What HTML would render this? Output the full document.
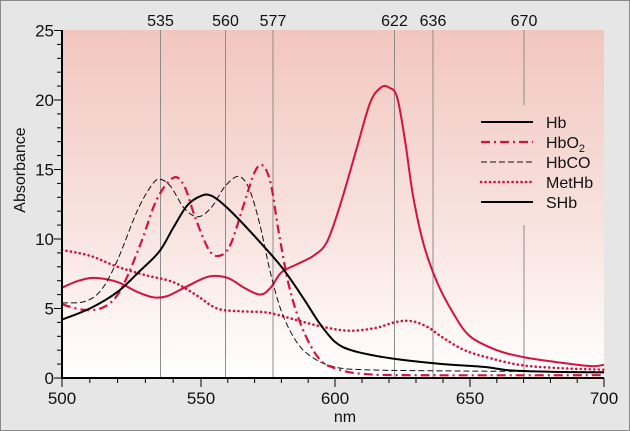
<!DOCTYPE html>
<html><head><meta charset="utf-8"><style>
html,body{margin:0;padding:0;background:#e6e6e6}
svg{display:block;font-family:"Liberation Sans",sans-serif}
</style></head><body>
<svg id="s" width="630" height="431" viewBox="0 0 630 431" xmlns="http://www.w3.org/2000/svg">
<defs><linearGradient id="g" x1="0" y1="0" x2="0" y2="1">
<stop offset="0" stop-color="#f2c6bf"/><stop offset="0.55" stop-color="#f8e2de"/><stop offset="1" stop-color="#ffffff"/></linearGradient></defs>
<rect x="0.5" y="0.5" width="629" height="430" fill="#e6e6e6" stroke="#8a8a8a"/>
<rect x="62" y="30" width="542" height="348" fill="url(#g)"/>
<g id="vl" stroke="#8c8c8c" stroke-width="1"></g>
<g id="cv" fill="none"></g>
<g id="ax"></g>
</svg>
<script>
function X(n){var p=[[500,62],[550,201],[600,335],[650,470],[700,604]];for(var i=0;i<4;i++){if(n<=p[i+1][0]){return p[i][1]+(n-p[i][0])*(p[i+1][1]-p[i][1])/50;}}return 604;}
function Y(v){return 378-v*13.9;}
var NS="http://www.w3.org/2000/svg";
function el(t,a,par,txt){var e=document.createElementNS(NS,t);for(var k in a)e.setAttribute(k,a[k]);if(txt!=null)e.textContent=txt;document.getElementById(par).appendChild(e);return e;}
[[535,160.5],[560,225.5],[577,273],[622,394.5],[636,433]].forEach(function(l){var x=l[1];el('line',{x1:x,x2:x,y1:30,y2:378},'vl');el('text',{x:x,y:26,'text-anchor':'middle','font-size':'16',fill:'#111'},'ax',String(l[0]));});
var x670=524;el('line',{x1:x670,x2:x670,y1:30,y2:105},'vl');el('line',{x1:x670,x2:x670,y1:225,y2:378},'vl');
el('text',{x:x670,y:26,'text-anchor':'middle','font-size':'16',fill:'#111'},'ax','670');
function path(pts){var P=pts.map(function(p){return [X(p[0]),Y(p[1])];});var d='M'+P[0][0].toFixed(1)+','+P[0][1].toFixed(1);
for(var i=0;i<P.length-1;i++){var p0=P[i-1]||P[i],p1=P[i],p2=P[i+1],p3=P[i+2]||P[i+1];
var c1=[p1[0]+(p2[0]-p0[0])/6,p1[1]+(p2[1]-p0[1])/6],c2=[p2[0]-(p3[0]-p1[0])/6,p2[1]-(p3[1]-p1[1])/6];
d+=' C'+c1[0].toFixed(1)+','+c1[1].toFixed(1)+' '+c2[0].toFixed(1)+','+c2[1].toFixed(1)+' '+p2[0].toFixed(1)+','+p2[1].toFixed(1);}return d;}
var red='#d4123e';
var hb=[[500,6.5],[506,7.0],[512,7.2],[520,6.9],[527,6.2],[533,5.8],[538,5.9],[545,6.6],[553,7.3],[560,7.2],[566,6.5],[572,6.0],[576,6.5],[580,7.6],[586,8.2],[592,8.8],[597,9.8],[602,12.5],[608,16.5],[613,19.8],[617,20.9],[620,20.9],[623,20.2],[626,17],[629,13],[633,9.5],[638,6.8],[644,4.6],[650,3],[660,2],[670,1.5],[680,1.2],[690,0.95],[696,0.85],[700,0.95]];
var o2=[[500,5.3],[508,4.9],[515,5.1],[521,6.3],[528,9.5],[534,12.8],[540,14.4],[544,13.8],[548,11.5],[553,9.2],[557,8.8],[561,9.6],[566,12.5],[570,14.8],[573,15.3],[576,14],[579,10.5],[583,6.5],[588,3.5],[594,1.4],[600,0.7],[610,0.3],[630,0.2],[700,0.2]];
var co=[[500,5.4],[508,5.5],[514,6.3],[520,8.5],[527,12],[532,13.8],[535,14.3],[539,13.8],[544,12.2],[549,11.6],[554,12.3],[559,13.8],[564,14.5],[568,13.6],[572,11],[576,7.5],[580,4.8],[585,2.8],[590,1.7],[598,0.9],[610,0.6],[650,0.5],[700,0.45]];
var mh=[[500,9.2],[510,8.8],[520,8],[530,7.4],[540,6.9],[548,6],[556,5.0],[565,4.8],[575,4.7],[585,4.2],[595,3.7],[605,3.4],[615,3.6],[622,4.0],[628,4.1],[634,3.7],[640,2.9],[648,2.0],[658,1.4],[670,0.9],[685,0.7],[700,0.6]];
var sh=[[500,4.2],[510,5.0],[520,6.2],[528,7.7],[535,9.1],[540,10.8],[545,12.4],[550,13.1],[554,13.1],[560,12.2],[570,10.2],[580,8.0],[588,5.8],[594,4.0],[600,2.6],[606,2.0],[615,1.6],[625,1.3],[640,1.0],[655,0.8],[665,0.55],[680,0.45],[700,0.4]];
el('path',{d:path(hb),stroke:red,'stroke-width':2},'cv');
el('path',{d:path(mh),stroke:red,'stroke-width':2.6,'stroke-dasharray':'0.1 4.4','stroke-linecap':'round'},'cv');
el('path',{d:path(co),stroke:'#111','stroke-width':1,'stroke-dasharray':'6 3'},'cv');
el('path',{d:path(o2),stroke:red,'stroke-width':2.2,'stroke-dasharray':'9 4 2 4'},'cv');
el('path',{d:path(sh),stroke:'#000','stroke-width':2},'cv');
el('line',{x1:62,x2:62,y1:30,y2:379,stroke:'#000','stroke-width':2},'ax');
el('line',{x1:61,x2:604,y1:378,y2:378,stroke:'#000','stroke-width':2},'ax');
for(var v=0;v<=25;v++){var y=Y(v);var big=v%5==0;el('line',{x1:big?54:57,x2:62,y1:y,y2:y,stroke:'#000','stroke-width':1},'ax');
if(big)el('text',{x:54,y:y+6,'text-anchor':'end','font-size':'17',fill:'#111'},'ax',String(v));}
for(var n=500;n<=700;n+=10){var x=X(n);el('line',{x1:x,x2:x,y1:378,y2:n%50==0?387:383,stroke:'#000','stroke-width':1},'ax');
if(n%50==0)el('text',{x:x,y:404,'text-anchor':'middle','font-size':'17',fill:'#111'},'ax',String(n));}
el('text',{x:345,y:422,'text-anchor':'middle','font-size':'16',fill:'#111'},'ax','nm');
el('text',{x:0,y:0,transform:'translate(25,170) rotate(-90)','text-anchor':'middle','font-size':'16',fill:'#111'},'ax','Absorbance');
var L=[['Hb','#000',2,null],['HbO2',red,2.2,'9 4 2 4'],['HbCO','#111',1,'6 3'],['MetHb',red,2.6,'0.1 4.4'],['SHb','#000',2,null]];
L.forEach(function(l,i){var y=122+i*20;var a={x1:481,x2:533,y1:y,y2:y,stroke:l[1],'stroke-width':l[2]};if(l[3]){a['stroke-dasharray']=l[3];if(l[0]=='MetHb')a['stroke-linecap']='round';}el('line',a,'ax');
var t=el('text',{x:546,y:y+6,'font-size':'16',fill:'#111'},'ax',l[0]=='HbO2'?'HbO':l[0]);
if(l[0]=='HbO2'){var ts=document.createElementNS(NS,'tspan');ts.setAttribute('font-size','11');ts.setAttribute('dy','4');ts.textContent='2';t.appendChild(ts);}});
</script>
</body></html>
